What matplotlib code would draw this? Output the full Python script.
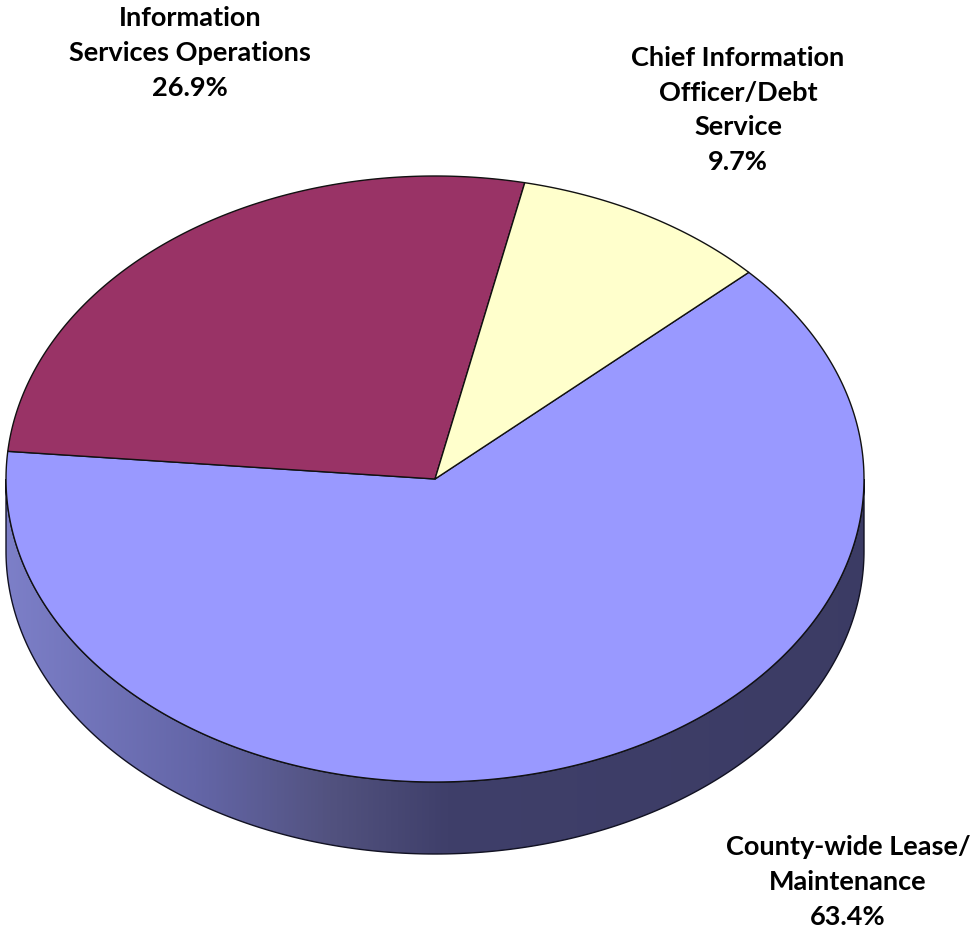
import numpy as np
import matplotlib
matplotlib.use("Agg")
import matplotlib.pyplot as plt
from matplotlib.patches import Polygon
from matplotlib.colors import LinearSegmentedColormap

# Budget shares (percent), drawn clockwise starting from the first category
categories = ["County-wide Lease/\nMaintenance",
              "Information\nServices Operations",
              "Chief Information\nOfficer/Debt\nService"]
shares = [63.4, 26.9, 9.7]
colors = ["#9999FF", "#993366", "#FFFFCC"]

# Pie geometry in pixel space
cx, cy = 435.0, 479.0
a, b = 429.0, 303.0
depth = 72.0
start_angle = 43.0

W, H = 971, 930
fig = plt.figure(figsize=(W / 100, H / 100), dpi=100)
ax = fig.add_axes([0, 0, 1, 1])
ax.set_xlim(0, W)
ax.set_ylim(H, 0)
ax.axis("off")


def rim(t_deg, dy=0.0):
    t = np.radians(t_deg)
    return np.column_stack([cx + a * np.cos(t), cy - b * np.sin(t) + dy])


# Side wall (front half of the disc) with a horizontal shading gradient
t_front = np.linspace(180, 360, 300)
side_pts = np.vstack([rim(t_front), rim(t_front[::-1], depth)])
side = Polygon(side_pts, closed=True, facecolor="none", edgecolor="#111122",
               linewidth=1.0, zorder=3)
ax.add_patch(side)

shade = LinearSegmentedColormap.from_list(
    "side", [(0.00, "#7d80c9"), (0.20, "#6466a8"), (0.34, "#52527f"),
             (0.46, "#3f3f6a"), (1.00, "#3b3b63")])
grad = np.linspace(0, 1, 512)[None, :]
img = ax.imshow(grad, cmap=shade, extent=(0, W, H, 0), aspect="auto",
                interpolation="bilinear", zorder=2)
img.set_clip_path(side)
ax.set_xlim(0, W)
ax.set_ylim(H, 0)

# Top face wedges
angle = start_angle
for share, col in zip(shares, colors):
    sweep = share / 100.0 * 360.0
    ts = np.linspace(angle, angle - sweep, max(int(sweep * 2), 10))
    pts = np.vstack([[cx, cy], rim(ts)])
    ax.add_patch(Polygon(pts, closed=True, facecolor=col, edgecolor="#111111",
                         linewidth=1.0, joinstyle="miter", zorder=4))
    angle -= sweep

# Labels (block centres)
label_pos = [(848, 882), (190, 53), (738, 110)]
font = dict(family=["Lato", "DejaVu Sans"], fontweight="bold", fontsize=19.5,
            color="black")
for name, share, (x, y) in zip(categories, shares, label_pos):
    ax.text(x, y, f"{name}\n{share:.1f}%", ha="center", va="center",
            linespacing=1.53, zorder=5, **font)

fig.savefig("out.png", dpi=100, facecolor="white")
